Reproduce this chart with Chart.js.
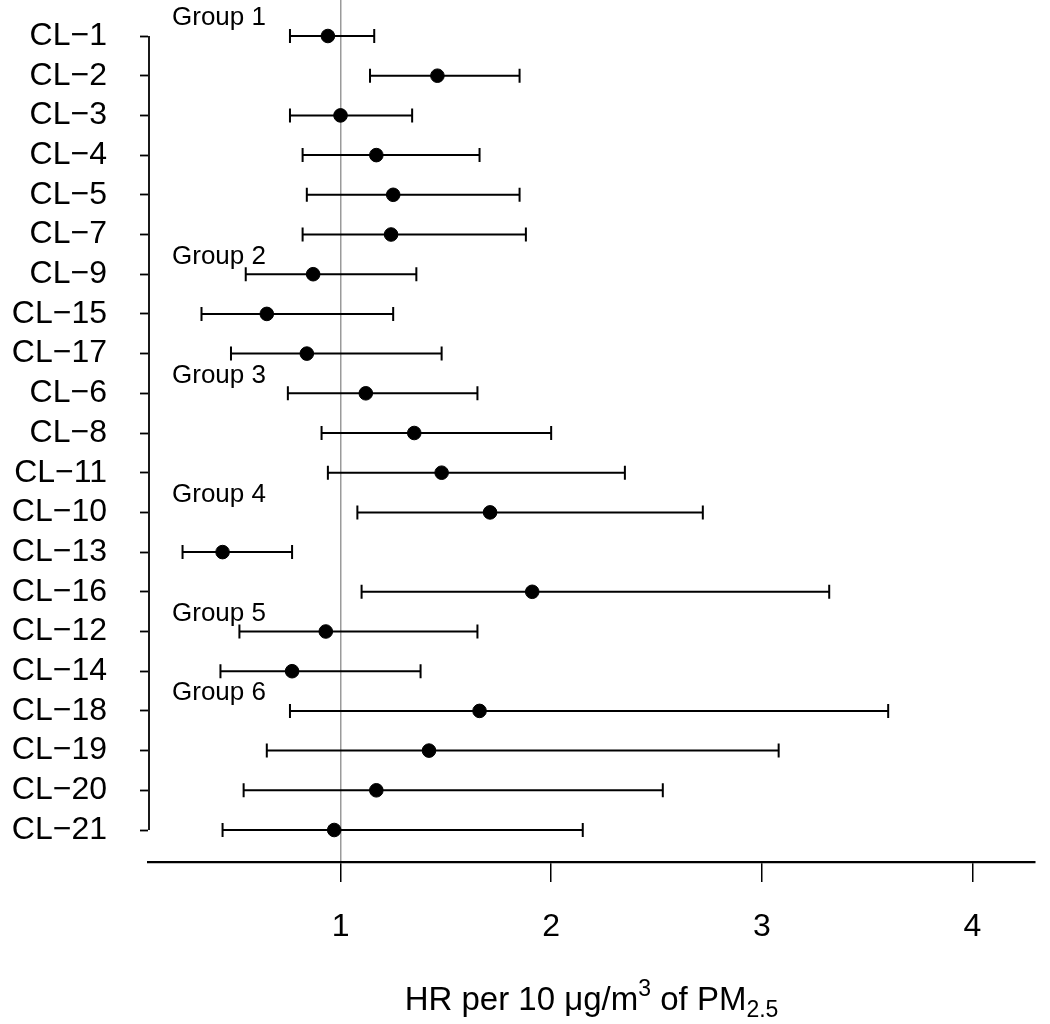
<!DOCTYPE html>
<html>
<head>
<meta charset="utf-8">
<script src="https://cdn.jsdelivr.net/npm/chart.js@4.4.1/dist/chart.umd.min.js"></script>
<style>
  html, body { margin: 0; padding: 0; background: #fff; }
  #wrap { width: 1050px; height: 1024px; }
</style>
</head>
<body>
<div id="wrap"><canvas id="forest"></canvas></div>
<script>
// clusters, top to bottom
const clusters = ["CL−1", "CL−2", "CL−3", "CL−4", "CL−5", "CL−7", "CL−9", "CL−15", "CL−17",
  "CL−6", "CL−8", "CL−11", "CL−10", "CL−13", "CL−16", "CL−12", "CL−14", "CL−18", "CL−19",
  "CL−20", "CL−21"];
const hr = [0.94, 1.46, 1.00, 1.17, 1.25, 1.24, 0.87, 0.65, 0.84, 1.12, 1.35, 1.48, 1.71,
  0.44, 1.91, 0.93, 0.77, 1.66, 1.42, 1.17, 0.97];
const hrLow = [0.76, 1.14, 0.76, 0.82, 0.84, 0.82, 0.55, 0.34, 0.48, 0.75, 0.91, 0.94, 1.08,
  0.25, 1.10, 0.52, 0.43, 0.76, 0.65, 0.54, 0.44];
const hrHigh = [1.16, 1.85, 1.34, 1.66, 1.85, 1.88, 1.36, 1.25, 1.48, 1.65, 2.00, 2.35, 2.72,
  0.77, 3.32, 1.65, 1.38, 3.60, 3.08, 2.53, 2.15];
const groupNames = ["Group 1", "Group 2", "Group 3", "Group 4", "Group 5", "Group 6"];
const groupStart = [0, 6, 9, 12, 15, 17];
const xTicks = [1, 2, 3, 4];

const FONT = "'Liberation Sans', Arial, Helvetica, sans-serif";

// whiskers, y-axis bracket, group labels and the axis title
const forestExtras = {
  id: "forestExtras",
  beforeDatasetsDraw(chart) {
    const { ctx, scales: { x, y } } = chart;
    ctx.save();
    ctx.strokeStyle = "#000";
    ctx.lineWidth = 2;
    hr.forEach((_, i) => {
      const yy = y.getPixelForValue(i);
      const x0 = x.getPixelForValue(hrLow[i]);
      const x1 = x.getPixelForValue(hrHigh[i]);
      ctx.beginPath();
      ctx.moveTo(x0, yy); ctx.lineTo(x1, yy);
      ctx.moveTo(x0, yy - 7); ctx.lineTo(x0, yy + 7);
      ctx.moveTo(x1, yy - 7); ctx.lineTo(x1, yy + 7);
      ctx.stroke();
    });
    ctx.restore();
  },
  afterDraw(chart) {
    const { ctx, chartArea, scales: { x, y } } = chart;
    ctx.save();
    // y axis line only between first and last cluster
    ctx.strokeStyle = "#000";
    ctx.lineWidth = 1.8;
    ctx.beginPath();
    ctx.moveTo(chartArea.left + 1, y.getPixelForValue(0));
    ctx.lineTo(chartArea.left + 1, y.getPixelForValue(clusters.length - 1));
    ctx.stroke();

    ctx.fillStyle = "#000";
    ctx.font = "26px " + FONT;
    ctx.textAlign = "left";
    ctx.textBaseline = "middle";
    groupNames.forEach((g, i) => {
      ctx.fillText(g, x.getPixelForValue(0.2), y.getPixelForValue(groupStart[i] - 0.45));
    });

    // HR per 10 µg/m3 of PM2.5 with super/subscript
    const parts = [
      { t: "HR per 10 μg/m", size: 33, dy: 0 },
      { t: "3", size: 23, dy: -14 },
      { t: " of PM", size: 33, dy: 0 },
      { t: "2.5", size: 23, dy: 7 }
    ];
    let total = 0;
    parts.forEach(p => { ctx.font = p.size + "px " + FONT; p.w = ctx.measureText(p.t).width; total += p.w; });
    let cx = (chartArea.left + chartArea.right) / 2 - total / 2;
    const base = 1010;
    ctx.textBaseline = "alphabetic";
    parts.forEach(p => {
      ctx.font = p.size + "px " + FONT;
      ctx.fillText(p.t, cx, base + p.dy);
      cx += p.w;
    });
    ctx.restore();
  }
};

new Chart(document.getElementById("forest"), {
  type: "scatter",
  data: {
    datasets: [{
      data: hr.map((v, i) => ({ x: v, y: i })),
      backgroundColor: "#000",
      borderColor: "#000",
      pointRadius: 6.8,
      pointHoverRadius: 6.8
    }]
  },
  options: {
    responsive: true,
    maintainAspectRatio: false,
    animation: false,
    layout: { padding: { top: 0, left: 0, bottom: 0, right: 15 }, autoPadding: false },
    plugins: {
      legend: { display: false },
      tooltip: { enabled: false }
    },
    scales: {
      x: {
        type: "linear",
        min: 0.086,
        max: 4.297,
        afterBuildTicks: s => { s.ticks = xTicks.map(v => ({ value: v })); },
        afterFit: s => { s.height = 162; s.paddingLeft = 0; s.paddingRight = 0; },
        grid: {
          color: c => (c.tick && c.tick.value === 1 ? "#9a9a9a" : "rgba(0,0,0,0)"),
          lineWidth: 1.5,
          tickColor: "#000",
          tickLength: 20,
          tickWidth: 1.5
        },
        border: { display: true, color: "#000", width: 2.2 },
        ticks: { color: "#000", font: { family: FONT, size: 32 }, padding: 26, maxRotation: 0, autoSkip: false }
      },
      y: {
        type: "linear",
        reverse: true,
        min: -0.907,
        max: 20.806,
        afterBuildTicks: s => { s.ticks = clusters.map((_, i) => ({ value: i })); },
        afterFit: s => { s.width = 148; s.paddingTop = 0; s.paddingBottom = 0; },
        grid: { drawOnChartArea: false, tickLength: 8, tickColor: "#000", tickWidth: 1.8 },
        border: { display: false },
        ticks: {
          color: "#000",
          font: { family: FONT, size: 32 },
          padding: 33,
          autoSkip: false,
          callback: v => clusters[v]
        }
      }
    }
  },
  plugins: [forestExtras]
});
</script>
</body>
</html>
